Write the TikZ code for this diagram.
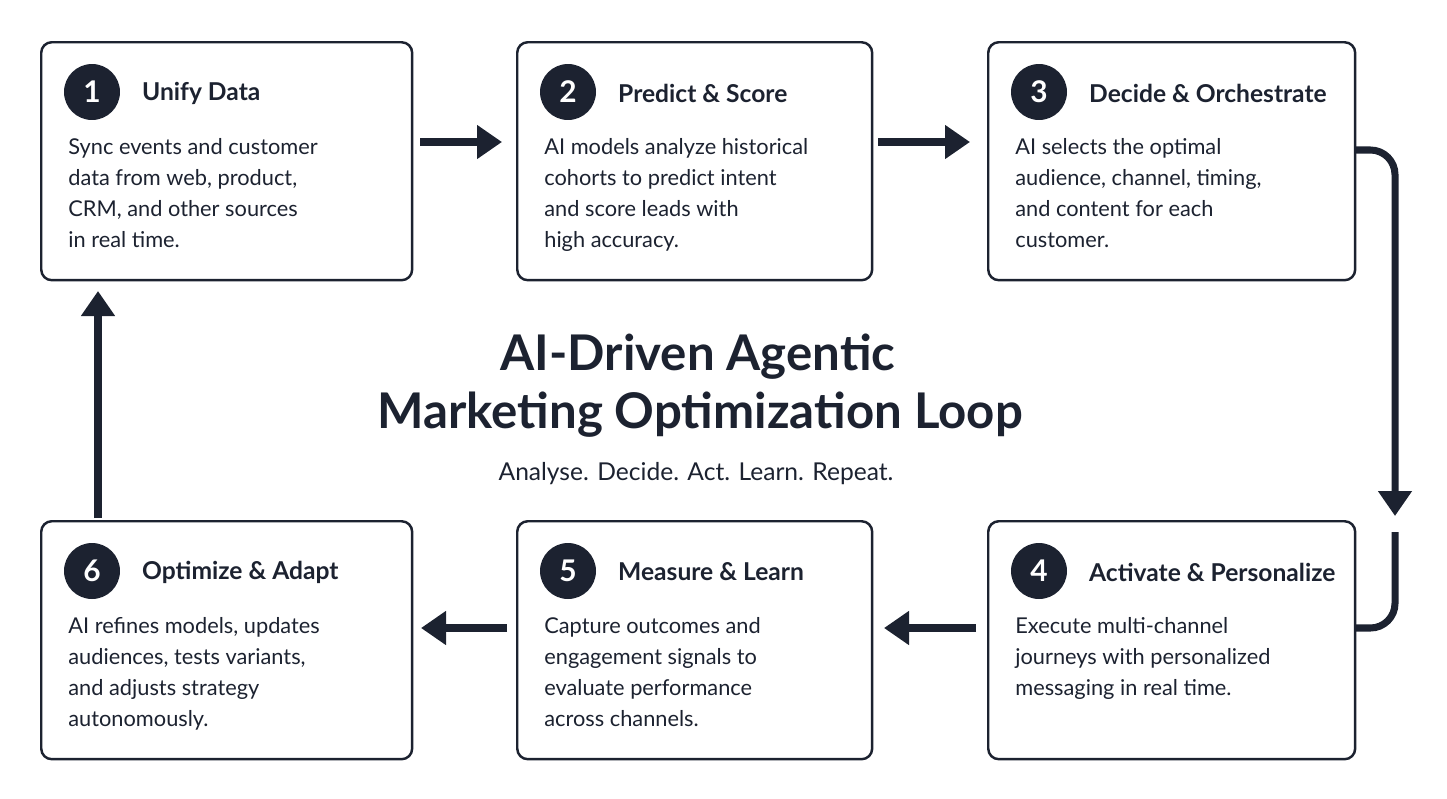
\documentclass[tikz,border=0pt]{standalone}
\usepackage{fontspec}
\setmainfont{Lato}
\usetikzlibrary{arrows.meta,calc}
\definecolor{ink}{HTML}{1C2230}
\tikzset{>={Triangle[length=5mm,width=6.5mm]}}
\tikzstyle{stepbox}=[draw=ink,line width=1.4pt,rounded corners=6pt,fill=white,minimum height=4.76cm,anchor=north west,inner sep=0pt]
\tikzstyle{badge}=[circle,fill=ink,text=white,minimum size=1.12cm,inner sep=0pt,font=\fontsize{17}{17}\selectfont\bfseries]
\tikzstyle{steptitle}=[anchor=west,text=ink,font=\fontsize{14}{16}\selectfont\bfseries]
\tikzstyle{stepbody}=[anchor=north west,align=left,text=ink,inner sep=0pt,font=\fontsize{12.4}{17.6}\selectfont]
\tikzstyle{flow}=[->,ink,line width=4pt]
\newcommand{\Step}[7]{
	\node[stepbox,minimum width=#4 cm] (#1) at (#2,#3) {};
	\node[badge] (#1num) at (#2+52,#3+51) {#5};
	\node[steptitle] (#1lab) at (#2+96,#3+52) {#6};
	\node[stepbody] (#1txt) at (#2+28,#3+97) {#7};
}

\begin{document}
\begin{tikzpicture}[x=0.02cm,y=-0.02cm]
	\useasboundingbox (0,0) rectangle (1447,798);

	\Step{unify}{40}{41}{7.42}{1}{Unify Data}{Sync events and customer\\data from web, product,\\CRM, and other sources\\in real time.};
	\Step{predict}{516}{41}{7.1}{2}{Predict \& Score}{AI models analyze historical\\cohorts to predict intent\\and score leads with\\high accuracy.};
	\Step{decide}{987}{41}{7.34}{3}{Decide \& Orchestrate}{AI selects the optimal\\audience, channel, timing,\\and content for each\\customer.};
	\Step{activate}{987}{520}{7.34}{4}{Activate \& Personalize}{Execute multi-channel\\journeys with personalized\\messaging in real time.};
	\Step{measure}{516}{520}{7.1}{5}{Measure \& Learn}{Capture outcomes and\\engagement signals to\\evaluate performance\\across channels.};
	\Step{optimize}{40}{520}{7.42}{6}{Optimize \& Adapt}{AI refines models, updates\\audiences, tests variants,\\and adjusts strategy\\autonomously.};

	% loop connectors
	\coordinate (a1s) at (420,142);
	\coordinate (a1e) at (502,142);
	\coordinate (a2s) at (878,142);
	\coordinate (a2e) at (970,142);
	\coordinate (a3s) at (1356,150);
	\coordinate (a3e) at (1395,516);
	\coordinate (a3b) at (1395,532);
	\coordinate (a3c) at (1356,628);
	\coordinate (a4s) at (976,628);
	\coordinate (a4e) at (884,628);
	\coordinate (a5s) at (507,628);
	\coordinate (a5e) at (421,628);
	\coordinate (a6s) at (98,518);
	\coordinate (a6e) at (98,291);

	\draw[flow] (a1s) -- (a1e);
	\draw[flow] (a2s) -- (a2e);
	\draw[flow,rounded corners=14pt] (a3s) -| (a3e);
	\draw[ink,line width=4pt,rounded corners=14pt] (a3b) |- (a3c);
	\draw[flow] (a4s) -- (a4e);
	\draw[flow] (a5s) -- (a5e);
	\draw[flow] (a6s) -- (a6e);

	% centre title
	\node[text=ink,font=\fontsize{28}{32}\selectfont\bfseries] (head1) at (698,357) {AI-Driven Agentic};
	\node[text=ink,font=\fontsize{28}{32}\selectfont\bfseries] (head2) at (700,415) {Marketing Optimization Loop};
	\node[text=ink,font=\fontsize{14}{16}\selectfont] (tagline) at (696,474) {Analyse. Decide. Act. Learn. Repeat.};
\end{tikzpicture}
\end{document}
